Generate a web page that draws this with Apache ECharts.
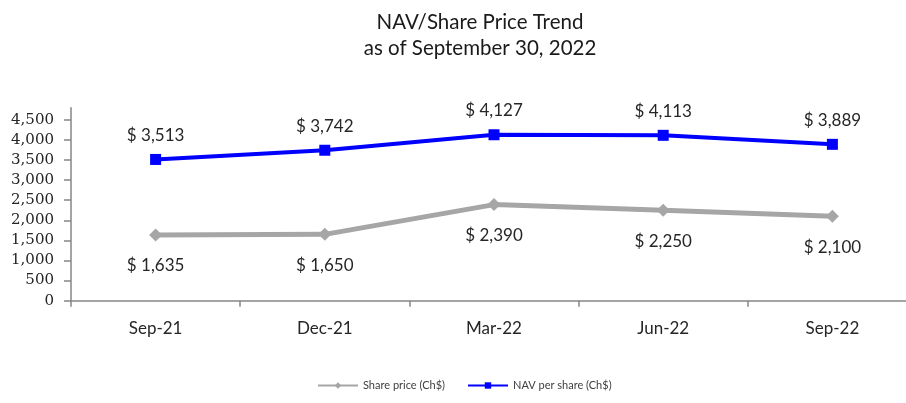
<!DOCTYPE html>
<html>
<head>
<meta charset="utf-8">
<script src="https://cdn.jsdelivr.net/npm/echarts@6/dist/echarts.min.js"></script>
<style>
  html, body { margin: 0; padding: 0; background: #fff; overflow: hidden; }
  /* the source chart is cropped on the right, so the canvas runs past the window */
  #main { width: 920px; height: 403px; }
</style>
</head>
<body>
<div id="main"></div>
<script>
// data
const categories = ['Sep-21', 'Dec-21', 'Mar-22', 'Jun-22', 'Sep-22']
const sharePrice = [1635, 1650, 2390, 2250, 2100]
const navPerShare = [3513, 3742, 4127, 4113, 3889]
const yTicks = [0, 500, 1000, 1500, 2000, 2500, 3000, 3500, 4000, 4500]

const labelFont = 'Lato, "Noto Sans", sans-serif'
const fmtMoney = v => '$ ' + v.toLocaleString('en-US')

const chart = echarts.init(document.getElementById('main'))

const option = {
  backgroundColor: '#fff',
  animation: false,
  title: {
    text: 'NAV/Share Price Trend\nas of September 30, 2022',
    left: 475,
    textAlign: 'center',
    top: 4,
    textStyle: {
      color: '#1a1a1a',
      fontSize: 20.5,
      fontWeight: 'normal',
      fontFamily: labelFont,
      lineHeight: 26
    }
  },
  legend: {
    bottom: 7,
    left: 312,
    itemWidth: 40,
    itemHeight: 8,
    itemGap: 22,
    textStyle: {
      color: '#404040',
      fontSize: 11,
      fontFamily: labelFont
    },
    data: ['Share price (Ch$)', 'NAV per share (Ch$)']
  },
  grid: {
    left: 71,
    right: 3,
    top: 107.7,
    bottom: 102.3,
    containLabel: false
  },
  xAxis: {
    type: 'category',
    data: categories,
    boundaryGap: true,
    axisLine: { lineStyle: { color: '#868686', width: 1.5 } },
    axisTick: { show: true, length: 6, lineStyle: { color: '#868686', width: 1.5 } },
    axisLabel: {
      color: '#262626',
      fontSize: 17,
      fontFamily: labelFont,
      margin: 19
    }
  },
  yAxis: {
    type: 'value',
    min: 0,
    max: 4800,
    interval: 500,
    splitLine: { show: false },
    axisLine: { show: true, lineStyle: { color: '#868686', width: 1.5 } },
    axisTick: { show: true, length: 7, customValues: yTicks, lineStyle: { color: '#868686', width: 1.5 } },
    axisLabel: {
      customValues: yTicks,
      color: '#262626',
      fontSize: 15,
      fontFamily: '"DejaVu Serif", serif',
      margin: 17,
      formatter: v => v.toLocaleString('en-US')
    }
  },
  series: [
    {
      name: 'Share price (Ch$)',
      type: 'line',
      data: sharePrice,
      symbol: 'diamond',
      symbolSize: 13,
      lineStyle: { color: '#a6a6a6', width: 5 },
      itemStyle: { color: '#a6a6a6' },
      label: {
        show: true,
        position: 'bottom',
        distance: 16,
        color: '#262626',
        fontSize: 17,
        fontFamily: labelFont,
        formatter: p => fmtMoney(p.value)
      }
    },
    {
      name: 'NAV per share (Ch$)',
      type: 'line',
      data: navPerShare,
      symbol: 'rect',
      symbolSize: 11,
      lineStyle: { color: '#0000ff', width: 4 },
      itemStyle: { color: '#0000ff' },
      label: {
        show: true,
        position: 'top',
        distance: 10,
        color: '#262626',
        fontSize: 17,
        fontFamily: labelFont,
        formatter: p => fmtMoney(p.value)
      }
    }
  ]
}

chart.setOption(option)
</script>
</body>
</html>
